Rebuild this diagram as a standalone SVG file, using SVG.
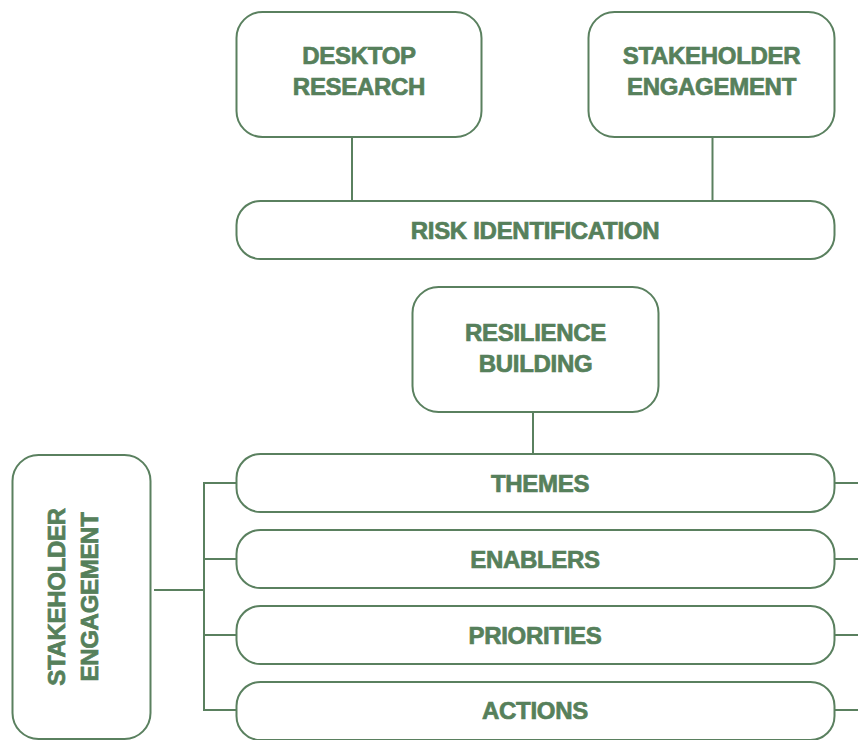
<svg xmlns="http://www.w3.org/2000/svg" width="858" height="740" viewBox="0 0 858 740">
<style>
.box{fill:#fff;stroke:#5a805f;stroke-width:2}
.lbl{font-family:"Liberation Sans",Arial,sans-serif;font-weight:bold;font-size:24px;fill:#56805b;stroke:#56805b;stroke-width:0.7;letter-spacing:-0.3px;text-anchor:middle}
.con{fill:none;stroke:#5a805f;stroke-width:2}
</style>
<rect width="858" height="740" fill="#fff"/>
<g id="connectors">
<line class="con" x1="352" y1="137" x2="352" y2="201"/>
<line class="con" x1="712.5" y1="137" x2="712.5" y2="201"/>
<line class="con" x1="533" y1="412" x2="533" y2="454"/>
<line class="con" x1="154" y1="590" x2="204" y2="590"/>
<polyline class="con" points="236,483 204,483 204,710 236,710"/>
<line class="con" x1="204" y1="559" x2="236" y2="559"/>
<line class="con" x1="204" y1="635" x2="236" y2="635"/>
<line class="con" x1="835" y1="483" x2="858" y2="483"/>
<line class="con" x1="835" y1="559" x2="858" y2="559"/>
<line class="con" x1="835" y1="635" x2="858" y2="635"/>
<line class="con" x1="835" y1="710" x2="858" y2="710"/>
</g>
<g id="desktop-research">
<rect class="box" x="236.5" y="12" width="245" height="125" rx="26"/>
<text class="lbl" x="359" y="64">DESKTOP</text>
<text class="lbl" x="359" y="95">RESEARCH</text>
</g>
<g id="stakeholder-engagement-top">
<rect class="box" x="588.5" y="12" width="246" height="125" rx="26"/>
<text class="lbl" x="711.5" y="64">STAKEHOLDER</text>
<text class="lbl" x="711.5" y="95">ENGAGEMENT</text>
</g>
<g id="risk-identification">
<rect class="box" x="236.5" y="201" width="598" height="58" rx="24"/>
<text class="lbl" x="535" y="239">RISK IDENTIFICATION</text>
</g>
<g id="resilience-building">
<rect class="box" x="412.5" y="287" width="246" height="125" rx="26"/>
<text class="lbl" x="535.5" y="341">RESILIENCE</text>
<text class="lbl" x="535.5" y="372">BUILDING</text>
</g>
<g id="themes">
<rect class="box" x="236.5" y="454" width="598" height="58" rx="24"/>
<text class="lbl" x="540" y="492">THEMES</text>
</g>
<g id="enablers">
<rect class="box" x="236.5" y="530" width="598" height="58" rx="24"/>
<text class="lbl" x="535" y="568">ENABLERS</text>
</g>
<g id="priorities">
<rect class="box" x="236.5" y="606" width="598" height="58" rx="24"/>
<text class="lbl" x="535" y="644">PRIORITIES</text>
</g>
<g id="actions">
<rect class="box" x="236.5" y="682" width="598" height="58" rx="24"/>
<text class="lbl" x="535" y="719">ACTIONS</text>
</g>
<g id="stakeholder-engagement-left">
<rect class="box" x="12.5" y="455" width="138" height="284" rx="26"/>
<text class="lbl" transform="translate(65,597) rotate(-90)">STAKEHOLDER</text>
<text class="lbl" transform="translate(98,597) rotate(-90)">ENGAGEMENT</text>
</g>
</svg>
